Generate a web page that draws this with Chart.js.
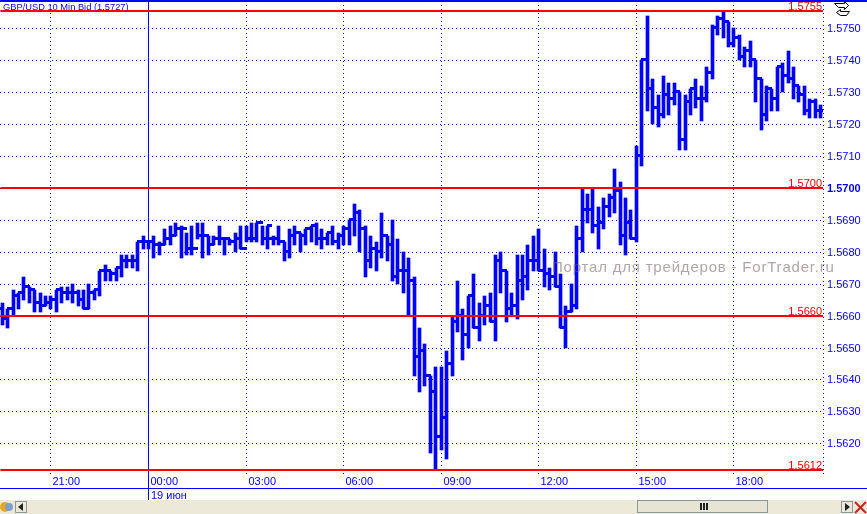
<!DOCTYPE html>
<html lang="ru">
<head>
    <meta charset="UTF-8">
    <title>GBP/USD 10 Min Bid</title>
    <script src="https://cdn.jsdelivr.net/npm/chart.js"></script>
    <style>
        body { margin: 0; background: #fff; }
        canvas { display: block; }
    </style>
</head>
<body>
<canvas id="priceChart" width="867" height="514"></canvas>

<script>
    const opens = [
        1.5662,1.5659,1.5662,1.5666,1.5667,1.5669,1.5668,1.5664,1.5663,1.5664,
        1.5665,1.5668,1.5667,1.5667,1.5667,1.5665,1.5662,1.5667,1.5668,1.5674,
        1.5674,1.5673,1.5675,1.5677,1.5677,1.5677,1.5683,1.5683,1.5683,1.5682,
        1.5682,1.5684,1.5685,1.5687,1.5687,1.5681,1.5681,1.5685,1.5685,1.5682,
        1.5684,1.5684,1.5684,1.5683,1.5684,1.5681,1.5684,1.5684,1.5689,1.5684,
        1.5684,1.5684,1.5683,1.5680,1.5685,1.5686,1.5685,1.5687,1.5688,1.5684,
        1.5684,1.5686,1.5683,1.5685,1.5687,1.5690,1.5692,1.5687,1.5677,1.5681,
        1.5680,1.5685,1.5682,1.5672,1.5674,1.5674,1.5671,1.5647,1.5649,1.5641,
        1.5636,1.5622,1.5628,1.5645,1.5658,1.5660,1.5654,1.5666,1.5656,1.5660,
        1.5663,1.5658,1.5677,1.5674,1.5662,1.5663,1.5671,1.5672,1.5677,1.5677,
        1.5674,1.5673,1.5672,1.5669,1.5656,1.5661,1.5663,1.5684,1.5693,1.5693,
        1.5688,1.5689,1.5694,1.5697,1.5699,1.5685,1.5689,1.5684,1.5710,1.5740,
        1.5731,1.5725,1.5723,1.5729,1.5728,1.5730,1.5715,1.5727,1.5731,1.5728,
        1.5728,1.5736,1.5750,1.5753,1.5752,1.5745,1.5747,1.5741,1.5743,1.5740,
        1.5734,1.5723,1.5731,1.5728,1.5738,1.5735,1.5734,1.5732,1.5729,1.5724,1.5727,1.5724
    ];
    const highs = [
        1.5664,1.5662,1.5668,1.5667,1.5672,1.5669,1.5668,1.5667,1.5666,1.5666,
        1.5668,1.5669,1.5669,1.5670,1.5668,1.5668,1.5670,1.5668,1.5674,1.5676,
        1.5674,1.5675,1.5679,1.5679,1.5679,1.5683,1.5685,1.5683,1.5685,1.5683,
        1.5687,1.5688,1.5689,1.5688,1.5686,1.5688,1.5689,1.5689,1.5685,1.5685,
        1.5688,1.5684,1.5684,1.5686,1.5688,1.5688,1.5689,1.5689,1.5688,1.5688,
        1.5685,1.5688,1.5683,1.5687,1.5688,1.5686,1.5687,1.5688,1.5689,1.5687,
        1.5686,1.5688,1.5686,1.5688,1.5690,1.5695,1.5693,1.5688,1.5685,1.5683,
        1.5692,1.5685,1.5690,1.5684,1.5680,1.5678,1.5672,1.5656,1.5651,1.5641,
        1.5644,1.5644,1.5649,1.5660,1.5671,1.5662,1.5666,1.5673,1.5664,1.5666,
        1.5667,1.5679,1.5680,1.5674,1.5667,1.5679,1.5679,1.5682,1.5685,1.5687,
        1.5681,1.5675,1.5680,1.5673,1.5663,1.5670,1.5688,1.5700,1.5698,1.5700,
        1.5694,1.5697,1.5698,1.5706,1.5702,1.5697,1.5693,1.5713,1.5740,1.5754,
        1.5734,1.5729,1.5735,1.5733,1.5733,1.5730,1.5729,1.5731,1.5734,1.5732,
        1.5738,1.5751,1.5754,1.5755,1.5752,1.5750,1.5748,1.5744,1.5746,1.5740,
        1.5734,1.5732,1.5731,1.5738,1.5739,1.5743,1.5738,1.5732,1.5732,1.5728,1.5728,1.5726
    ];
    const lows = [
        1.5657,1.5656,1.5660,1.5662,1.5665,1.5664,1.5661,1.5661,1.5663,1.5662,
        1.5661,1.5664,1.5665,1.5664,1.5663,1.5662,1.5662,1.5665,1.5666,1.5671,
        1.5671,1.5671,1.5672,1.5675,1.5675,1.5674,1.5681,1.5681,1.5678,1.5679,
        1.5682,1.5682,1.5685,1.5678,1.5679,1.5679,1.5684,1.5678,1.5679,1.5682,
        1.5682,1.5679,1.5682,1.5680,1.5681,1.5683,1.5683,1.5683,1.5682,1.5681,
        1.5682,1.5682,1.5677,1.5678,1.5682,1.5680,1.5682,1.5683,1.5682,1.5681,
        1.5682,1.5682,1.5681,1.5682,1.5682,1.5685,1.5680,1.5672,1.5675,1.5674,
        1.5678,1.5677,1.5671,1.5670,1.5667,1.5660,1.5641,1.5636,1.5638,1.5617,
        1.5612,1.5618,1.5615,1.5641,1.5655,1.5646,1.5650,1.5656,1.5652,1.5657,
        1.5658,1.5652,1.5667,1.5658,1.5660,1.5659,1.5665,1.5668,1.5674,1.5674,
        1.5669,1.5668,1.5669,1.5656,1.5650,1.5661,1.5662,1.5680,1.5689,1.5686,
        1.5681,1.5687,1.5691,1.5692,1.5682,1.5679,1.5684,1.5683,1.5707,1.5724,
        1.5720,1.5719,1.5722,1.5723,1.5726,1.5712,1.5712,1.5723,1.5725,1.5721,
        1.5727,1.5734,1.5748,1.5747,1.5744,1.5744,1.5740,1.5738,1.5738,1.5727,
        1.5718,1.5721,1.5724,1.5724,1.5730,1.5733,1.5728,1.5727,1.5723,1.5722,1.5722,1.5722
    ];
    const closes = [
        1.5659,1.5662,1.5666,1.5667,1.5669,1.5668,1.5664,1.5663,1.5664,1.5665,
        1.5668,1.5667,1.5667,1.5667,1.5665,1.5662,1.5667,1.5668,1.5674,1.5674,
        1.5673,1.5675,1.5677,1.5677,1.5677,1.5683,1.5683,1.5683,1.5682,1.5682,
        1.5684,1.5685,1.5687,1.5687,1.5681,1.5681,1.5685,1.5685,1.5682,1.5684,
        1.5684,1.5684,1.5683,1.5684,1.5681,1.5684,1.5684,1.5689,1.5684,1.5688,
        1.5684,1.5683,1.5680,1.5685,1.5686,1.5685,1.5687,1.5688,1.5684,1.5684,
        1.5686,1.5683,1.5685,1.5687,1.5690,1.5692,1.5687,1.5677,1.5681,1.5680,
        1.5685,1.5682,1.5672,1.5674,1.5674,1.5671,1.5647,1.5649,1.5641,1.5636,
        1.5622,1.5628,1.5645,1.5658,1.5660,1.5654,1.5666,1.5656,1.5660,1.5663,
        1.5658,1.5677,1.5674,1.5662,1.5663,1.5671,1.5672,1.5677,1.5677,1.5674,
        1.5673,1.5672,1.5669,1.5656,1.5661,1.5663,1.5684,1.5693,1.5693,1.5688,
        1.5689,1.5694,1.5697,1.5699,1.5685,1.5689,1.5684,1.5710,1.5740,1.5731,
        1.5725,1.5723,1.5729,1.5728,1.5730,1.5715,1.5727,1.5731,1.5728,1.5728,
        1.5736,1.5750,1.5753,1.5752,1.5745,1.5747,1.5741,1.5743,1.5740,1.5734,
        1.5723,1.5731,1.5728,1.5738,1.5735,1.5734,1.5732,1.5729,1.5724,1.5727,1.5724,1.5724
    ];

    const timeTickBars = [9, 27, 45, 63, 81, 99, 117, 135];
    const timeTickLabels = ["21:00", "00:00", "03:00", "06:00", "09:00", "12:00", "15:00", "18:00"];
    const priceTicks = [1.562, 1.563, 1.564, 1.565, 1.566, 1.567, 1.568, 1.569, 1.57, 1.571, 1.572, 1.573, 1.574, 1.575];
    const levelValues = [1.57554, 1.57, 1.566, 1.56117];
    const levelLabels = ["1.5755", "1.5700", "1.5660", "1.5612"];

    const chartTitle = "GBP/USD 10 Min Bid (1.5727)";
    const dateLabel = "19 июн";
    const watermark = "Портал для трейдеров - ForTrader.ru";

    const xMin = -0.314, xMax = 151.53;
    const yMin = 1.56104, yMax = 1.575855;
    const BLUE = "#0000ff", RED = "#ff0000";

    // the original is drawn on whole pixels, so the scale rounds too.
    // stems are 3px wide, hence the half pixel on the x axis
    class PixelScale extends Chart.LinearScale {
        getPixelForValue(value) {
            const px = Math.round(super.getPixelForValue(value));
            return this.isHorizontal() ? px + 0.5 : px;
        }
    }
    PixelScale.id = "pixelLinear";
    PixelScale.defaults = Chart.LinearScale.defaults;
    Chart.register(PixelScale);

    // chart.js reserves room for the edge labels, the original does not
    function noEdgePadding(scale) {
        scale.paddingLeft = scale.paddingRight = scale.paddingTop = scale.paddingBottom = 0;
    }

    function tickImage(fromLeft) {
        const c = document.createElement("canvas");
        c.width = 9;
        c.height = 4;
        const g = c.getContext("2d");
        g.fillStyle = BLUE;
        g.fillRect(fromLeft ? 0 : 4, 0, 5, 3);
        return c;
    }

    const pointTicks = (values, image) => ({
        type: "line",
        data: values.map((v, i) => ({ x: i, y: v })),
        showLine: false,
        pointStyle: image,
        pointRadius: 2,
        pointBorderWidth: 0,
        order: 1
    });

    const levelLines = levelValues.map(v => ({
        type: "line",
        data: [{ x: xMin, y: v }, { x: xMax, y: v }],
        borderColor: RED,
        borderWidth: 2,
        pointRadius: 0,
        order: 0
    }));

    const terminalChrome = {
        id: "terminalChrome",
        afterDraw(chart) {
            const ctx = chart.ctx;
            const xs = chart.scales.x, ys = chart.scales.y;
            ctx.save();

            // dotted right edge of the plot
            ctx.strokeStyle = BLUE;
            ctx.lineWidth = 1;
            ctx.setLineDash([1, 3]);
            ctx.beginPath();
            ctx.moveTo(823.5, 1);
            ctx.lineTo(823.5, 474);
            ctx.stroke();
            ctx.setLineDash([]);

            // top rule and title
            ctx.fillStyle = BLUE;
            ctx.fillRect(0, 0, 867, 2);
            ctx.font = "9.3px 'Liberation Sans'";
            ctx.textBaseline = "alphabetic";
            ctx.fillText(chartTitle, 3, 10);

            // labels on the red levels
            ctx.fillStyle = RED;
            ctx.font = "11px 'Liberation Sans'";
            ctx.textAlign = "right";
            levelValues.forEach((v, i) => {
                ctx.fillText(levelLabels[i], 822, ys.getPixelForValue(v) - 1);
            });
            ctx.textAlign = "left";

            // watermark
            ctx.fillStyle = "rgba(125,105,105,0.6)";
            ctx.font = "15px 'Liberation Sans'";
            ctx.letterSpacing = "0.8px";
            ctx.fillText(watermark, 552, 272);
            ctx.letterSpacing = "0px";

            // date strip
            ctx.fillStyle = BLUE;
            ctx.fillRect(0, 488, 867, 1);
            const midnight = Math.floor(xs.getPixelForValue(timeTickBars[1]));
            ctx.fillRect(midnight, 474, 1, 26);
            ctx.font = "11px 'Liberation Sans'";
            ctx.fillText(dateLabel, midnight + 3, 499);

            // scrollbar
            ctx.fillStyle = "#ece9d8";
            ctx.fillRect(0, 500, 867, 14);
            ctx.fillStyle = "#e8e4d4";
            ctx.strokeStyle = "#8a9a9a";
            ctx.fillRect(637, 500, 131, 13);
            ctx.strokeRect(637.5, 500.5, 130, 12);
            ctx.strokeRect(15.5, 501.5, 11, 11);
            ctx.strokeRect(841.5, 501.5, 11, 11);
            ctx.fillStyle = "#222";
            ctx.fillRect(700, 503, 2, 7);
            ctx.fillRect(703, 503, 2, 7);
            ctx.fillRect(706, 503, 2, 7);
            ctx.beginPath();
            ctx.moveTo(23, 503); ctx.lineTo(18, 507); ctx.lineTo(23, 511);
            ctx.moveTo(845, 503); ctx.lineTo(850, 507); ctx.lineTo(845, 511);
            ctx.fill();

            // corner icons
            ctx.fillStyle = "#e8a820";
            ctx.beginPath();
            ctx.arc(5, 507, 5, 0, Math.PI * 2);
            ctx.fill();
            ctx.fillStyle = "#7f9fc8";
            ctx.beginPath();
            ctx.arc(9, 507, 4, 0, Math.PI * 2);
            ctx.fill();
            ctx.strokeStyle = "#cc2222";
            ctx.lineWidth = 2;
            ctx.beginPath();
            ctx.moveTo(855, 502); ctx.lineTo(866, 513);
            ctx.moveTo(866, 502); ctx.lineTo(855, 513);
            ctx.stroke();

            // the two little arrows at the top right
            ctx.strokeStyle = "#000";
            ctx.fillStyle = "#fff";
            ctx.lineWidth = 1;
            ctx.beginPath();
            ctx.moveTo(834.5, 3.5); ctx.lineTo(844.5, 3.5); ctx.lineTo(844.5, 1.5);
            ctx.lineTo(848.5, 5.5); ctx.lineTo(844.5, 9.5); ctx.lineTo(844.5, 7.5);
            ctx.lineTo(838.5, 7.5); ctx.closePath();
            ctx.fill();
            ctx.stroke();
            ctx.beginPath();
            ctx.moveTo(849.5, 11.5); ctx.lineTo(840.5, 11.5); ctx.lineTo(840.5, 9.5);
            ctx.lineTo(836.5, 12.5); ctx.lineTo(840.5, 15.5); ctx.lineTo(846.5, 15.5);
            ctx.closePath();
            ctx.fill();
            ctx.stroke();
            ctx.restore();
        }
    };

    new Chart(document.getElementById("priceChart"), {
        type: "bar",
        data: {
            datasets: [
                {
                    data: highs.map((h, i) => ({ x: i, y: [lows[i], h] })),
                    backgroundColor: BLUE,
                    barThickness: 3,
                    order: 2
                },
                pointTicks(opens, tickImage(true)),
                pointTicks(closes, tickImage(false)),
                ...levelLines
            ]
        },
        options: {
            responsive: false,
            animation: false,
            layout: { autoPadding: false, padding: { top: 1 } },
            plugins: { legend: { display: false }, tooltip: { enabled: false } },
            scales: {
                x: {
                    type: "pixelLinear",
                    offset: false,
                    min: xMin,
                    max: xMax,
                    afterBuildTicks: scale => { scale.ticks = timeTickBars.map(v => ({ value: v })); },
                    afterFit: scale => { scale.height = 40; noEdgePadding(scale); },
                    grid: {
                        offset: false,
                        color: BLUE,
                        drawTicks: false
                    },
                    border: {
                        display: false,
                        dash: ctx => ctx.tick && ctx.tick.value === timeTickBars[1] ? [] : [1, 3]
                    },
                    ticks: {
                        autoSkip: false,
                        maxRotation: 0,
                        align: "start",
                        labelOffset: 2,
                        padding: 1,
                        color: BLUE,
                        font: { family: "'Liberation Sans'", size: 11 },
                        callback: (value, index) => timeTickLabels[index]
                    }
                },
                y: {
                    type: "pixelLinear",
                    position: "right",
                    min: yMin,
                    max: yMax,
                    afterBuildTicks: scale => { scale.ticks = priceTicks.map(v => ({ value: v })); },
                    afterFit: scale => { scale.width = 44; noEdgePadding(scale); },
                    grid: {
                        color: BLUE,
                        drawTicks: false
                    },
                    border: {
                        display: false,
                        dash: [1, 3]
                    },
                    ticks: {
                        autoSkip: false,
                        padding: 4,
                        labelOffset: 1,
                        color: BLUE,
                        font: ctx => ({
                            family: "'Liberation Sans'",
                            size: 11,
                            weight: ctx.tick && ctx.tick.value === 1.57 ? "bold" : "normal"
                        }),
                        callback: value => value.toFixed(4)
                    }
                }
            }
        },
        plugins: [terminalChrome]
    });
</script>
</body>
</html>
